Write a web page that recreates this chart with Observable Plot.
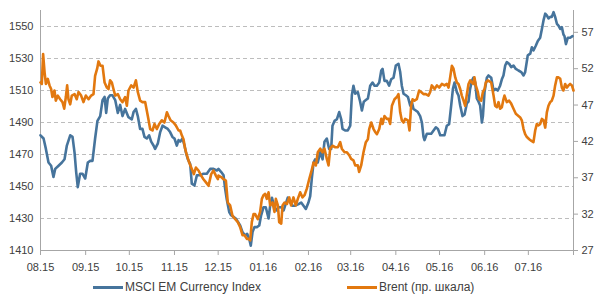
<!DOCTYPE html>
<html>
<head>
<meta charset="utf-8">
<script src="https://cdn.jsdelivr.net/npm/d3@7"></script>
<script src="https://cdn.jsdelivr.net/npm/@observablehq/plot@0.6"></script>
<style>
  html, body { margin: 0; padding: 0; background: #fff; }
  #chart svg { display: block; }
  #legend { position: relative; width: 600px; height: 22px; font-family: "Liberation Sans", Arial, sans-serif; font-size: 12px; color: #404040; }
  .item { position: absolute; top: 0; height: 22px; display: flex; align-items: center; }
  .swatch { display: inline-block; width: 30px; height: 3px; margin-right: 2px; }
</style>
</head>
<body>
<div id="chart"></div>
<div id="legend">
  <div class="item" style="left:93px"><span class="swatch" style="background:#46749c"></span>MSCI EM Currency Index</div>
  <div class="item" style="left:347px"><span class="swatch" style="background:#e2780f"></span>Brent (пр. шкала)</div>
</div>
<script>
// Days since 2015-08-01, value
const msciSeries = [
[0,1482],[2.1,1480],[3.7,1473.5],[5.5,1465],[7.3,1463],[8.9,1456],[10.1,1461],[12.4,1463],[14.7,1465],[16.5,1467],[18.1,1475.6],[20.4,1482],[22.0,1481],[23.4,1471],[24.5,1459],[25.6,1449.6],[27.2,1458],[28.8,1458],[30.7,1455],[32.5,1465],[34.1,1466],[35.7,1466],[37.5,1480],[39.1,1491],[41.0,1494],[42.6,1504],[44.0,1506],[45.1,1496],[46.2,1505],[47.8,1507],[49.4,1507],[51.3,1504],[53.1,1496],[54.7,1501],[56.3,1494],[58.1,1498.5],
[60.4,1493.3],[62.7,1492],[63.9,1496.5],[65.5,1498.5],[66.8,1494],[68.4,1486],[70.0,1486],[71.4,1481],[73.0,1480],[74.6,1482],[76.0,1478],[77.6,1475.6],[78.7,1473.5],[80.6,1477],[82.2,1484],[83.8,1488],[85.6,1487],[87.4,1486],[89.0,1484],[90.6,1481],[92.0,1480],[93.6,1475.6],[94.8,1479],[95.9,1478],[97.5,1480],[98.9,1475.6],[99.8,1471.5],[101.2,1467],[102.8,1464],[103.9,1451.7],[105.7,1450.6],[107.4,1457],[109.6,1457],[111.9,1458],[114.2,1458],[116.5,1461],[118.8,1461],[121.1,1460],
[122.2,1461],[124.1,1459],[125.7,1457],[126.8,1448.5],[127.9,1442],[129.6,1434],[130.9,1432],[132.5,1431],[134.1,1430],[135.5,1428],[137.1,1425.6],[138.7,1421.5],[140.5,1419.4],[141.9,1420.4],[143.3,1417.3],[144.4,1413],[145.6,1421.5],[146.9,1424.6],[148.6,1424.6],[150.2,1425.6],[151.5,1432],[153.1,1437],[154.7,1437],[156.6,1430],[157.7,1438],[158.9,1443],[160.7,1437],[162.3,1435],[163.4,1437],[165.3,1437],[166.9,1435],[168.0,1438],[169.8,1443],[171.4,1440],[173.0,1438],[174.9,1438],[177.2,1439],[179.0,1440],[180.6,1438],[182.2,1436],[184.0,1440],
[185.2,1444],[186.3,1455],[187.5,1465],[188.6,1467],[190.4,1465],[192.1,1471.5],[193.7,1467],[195.0,1478],[196.6,1480],[198.2,1473.5],[199.6,1473.5],[200.5,1488],[201.9,1491],[203.5,1492],[205.1,1496.5],[206.5,1492],[207.4,1486],[209.2,1485],[211.0,1485],[212.7,1488],[213.8,1507],[214.9,1513],[216.1,1508],[217.9,1509],[219.5,1503],[220.7,1497.5],[222.0,1503],[223.4,1504],[224.8,1505],[226.4,1513],[228.0,1515],[229.4,1513],[231.0,1513],[232.6,1515],[234.0,1522.5],[234.9,1523.5],[236.2,1516],[237.8,1516],[239.4,1513],[240.8,1517],[242.4,1518],[244.0,1525.6],
[245.8,1526.7],[247.0,1521.5],[248.1,1513],[249.3,1508],[250.9,1507],[252.3,1506],[253.9,1500.6],[255.0,1503],[256.1,1498.5],[257.7,1497.5],[259.1,1496.5],[260.7,1494],[261.9,1490],[263.0,1481],[263.7,1479],[265.3,1483],[266.9,1483],[268.3,1483],[269.9,1485],[271.5,1487],[272.9,1486],[274.5,1482],[276.1,1482],[277.4,1482],[279.0,1488],[280.6,1489],[282.0,1500.6],[283.2,1511],[284.3,1515],[285.9,1509],[287.0,1507],[288.2,1500.6],[289.8,1494],[291.2,1495],[292.8,1502],[293.9,1503],[295.0,1511],[296.2,1516],[297.3,1518],[298.5,1515],[299.6,1505],[300.8,1503],[301.9,1500.6],[303.1,1490],[303.8,1494],[304.9,1509],[306.5,1518],
[307.6,1519.4],[309.5,1518],[311.1,1510],[312.7,1511],[314.0,1510],[315.6,1513],[316.8,1517],[317.9,1519.4],[319.1,1525.6],[320.2,1527.7],[321.8,1526.7],[323.2,1524.6],[324.8,1525.6],[326.4,1523.5],[328.2,1522.5],[330.1,1521.5],[331.7,1519.4],[332.8,1521.5],[334.6,1532],[336.3,1533],[337.4,1537],[338.5,1535],[340.1,1538],[341.5,1541],[343.1,1543],[344.3,1548.5],[345.4,1553.8],[346.6,1558],[347.7,1557],[348.8,1555],[350.0,1556],[351.1,1556],[352.3,1559],[353.4,1556],[354.6,1551.7],[355.7,1550.6],[356.9,1548.5],[358.0,1549.6],[359.1,1545],[359.8,1544],[360.8,1539],[362.1,1543],[363.7,1543],[365.3,1544]
];
const brentSeries = [
[0,50.1],[0.9,49.9],[1.8,54.0],[2.8,51.5],[3.7,49.9],[5.0,50.6],[6.2,49.7],[7.3,49.2],[8.2,48.1],[9.6,49.0],[10.5,47.6],[11.9,48.3],[13.5,47.8],[15.1,47.4],[16.3,46.5],[17.4,48.1],[18.3,49.7],[19.2,47.8],[20.4,47.1],[21.5,48.3],[23.4,48.5],[24.9,47.8],[26.1,48.8],[27.9,48.3],[29.5,47.4],[31.1,48.3],[33.0,47.8],[34.8,48.3],[36.4,48.5],[37.5,51.0],[38.9,52.0],[39.8,53.0],[41.2,52.4],[42.6,52.4],[44.0,50.1],[45.6,49.4],[46.7,49.2],[47.8,50.4],[49.0,50.1],[50.1,49.2],[51.3,48.3],[53.1,48.5],[54.7,47.8],[56.3,47.4],[58.1,48.1],[59.3,46.9],
[60.4,49.0],[62.3,49.7],[63.9,49.4],[65.5,50.4],[66.8,48.8],[68.4,47.6],[70.0,47.4],[71.9,47.4],[73.7,45.5],[75.3,43.7],[76.9,43.5],[78.3,44.4],[79.9,43.7],[81.5,44.4],[83.3,44.9],[85.1,44.6],[86.8,46.0],[87.9,45.5],[89.3,44.9],[91.3,44.6],[92.9,44.2],[94.8,43.5],[95.9,43.5],[97.1,42.8],[98.2,42.3],[99.3,41.0],[100.5,40.1],[102.1,39.1],[103.9,38.2],[105.3,37.5],[106.7,38.4],[108.5,38.0],[110.3,37.3],[111.9,36.8],[113.5,36.4],[115.4,35.9],[117.2,37.5],[118.8,38.0],[120.4,37.3],[121.8,36.8],
[122.2,37.3],[124.1,37.1],[125.7,36.8],[127.3,36.6],[128.6,33.6],[130.2,33.2],[131.8,31.8],[133.7,31.3],[135.5,30.9],[137.1,30.2],[138.7,29.1],[140.1,29.1],[141.7,28.6],[142.8,28.6],[144.0,28.4],[145.1,30.9],[146.3,32.0],[147.4,32.0],[149.2,31.3],[150.8,32.3],[152.0,34.1],[153.1,34.6],[154.3,34.8],[155.4,34.1],[156.6,35.0],[157.7,33.2],[159.3,33.6],[160.7,32.3],[161.6,34.1],[163.0,33.2],[163.9,30.9],[165.3,30.7],[166.2,33.2],[167.6,33.6],[169.2,33.4],[170.8,34.3],[172.1,33.2],[173.7,34.3],[175.3,33.2],[176.7,34.1],[178.3,35.0],[179.9,34.3],[181.3,34.6],[182.9,35.5],[184.5,36.8],
[185.9,37.8],[187.5,39.1],[189.1,38.7],[190.4,40.5],[192.1,41.0],[193.7,40.5],[195.0,41.0],[196.6,39.6],[197.8,38.7],[198.9,41.0],[200.5,41.4],[202.4,41.2],[204.2,41.2],[205.8,41.9],[206.9,41.0],[208.8,40.5],[210.4,40.5],[212.0,40.1],[213.3,39.6],[214.9,39.4],[216.1,38.7],[217.9,38.7],[218.8,37.8],[220.2,38.7],[221.8,40.5],[223.4,41.9],[224.8,42.3],[225.7,43.7],[227.1,44.6],[228.7,43.7],[229.8,43.3],[231.0,43.0],[232.6,43.7],[234.0,45.1],[234.9,44.4],[236.2,45.5],[237.8,45.1],[239.0,45.1],[240.1,44.4],[241.3,46.9],[243.1,47.8],[244.7,48.1],
[245.8,48.5],[247.0,46.0],[248.1,44.9],[249.3,44.6],[250.4,45.1],[252.3,44.9],[253.4,43.5],[254.5,46.9],[255.5,47.8],[256.8,47.6],[258.4,47.8],[260.0,49.0],[261.4,48.8],[263.0,48.5],[264.6,48.5],[266.4,48.3],[267.6,48.8],[268.7,49.7],[270.6,49.2],[272.2,49.7],[273.8,49.4],[275.6,49.9],[277.4,49.7],[279.0,49.9],[280.2,49.4],[281.3,50.8],[282.5,52.4],[283.6,52.0],[284.8,50.8],[285.9,50.1],[287.0,49.9],[288.2,49.2],[289.3,48.3],[290.5,47.6],[291.6,46.9],[292.8,48.5],[293.9,49.9],[295.1,50.4],[296.2,50.1],[297.3,49.9],[298.0,50.8],[298.9,49.7],[300.3,48.8],[301.2,47.8],[302.6,47.6],[303.8,48.8],[304.9,49.2],[305.8,50.1],[307.2,50.4],
[309.5,50.1],[311.1,48.3],[312.2,46.9],[313.4,46.7],[314.5,47.4],[315.6,46.5],[316.8,46.7],[317.9,47.8],[318.6,48.3],[320.2,47.4],[321.8,47.6],[323.2,47.2],[324.8,46.5],[326.4,45.8],[328.2,45.5],[329.4,45.3],[330.5,44.9],[331.7,43.7],[332.8,43.0],[334.0,42.6],[335.6,42.3],[336.9,42.1],[338.5,41.9],[339.7,43.5],[340.8,44.4],[342.0,44.2],[343.1,44.4],[344.3,45.1],[345.4,44.9],[346.6,43.9],[347.7,46.0],[348.8,46.9],[350.0,47.4],[351.1,47.6],[352.3,48.3],[353.4,49.7],[354.6,50.8],[355.7,50.8],[356.9,50.6],[358.0,49.4],[359.1,49.0],[360.3,49.9],[361.4,49.4],[362.6,49.7],[363.7,49.9],[364.9,49.7],[366.0,49.0]
];
const monthDates = ["2015-08-01","2015-09-01","2015-10-01","2015-11-01","2015-12-01","2016-01-01","2016-02-01","2016-03-01","2016-04-01","2016-05-01","2016-06-01","2016-07-01","2016-08-01"];
const monthLabels = ["08.15","09.15","10.15","11.15","12.15","01.16","02.16","03.16","04.16","05.16","06.16","07.16",""];
const leftTicks = [1410,1430,1450,1470,1490,1510,1530,1550];
const rightTicks = [27,32,37,42,47,52,57];
const leftDomain = [1410, 1560];
const rightDomain = [27, 60];

const blue = "#46749c", orange = "#e2780f", axisGray = "#a6a6a6";
const start = new Date(monthDates[0] + "T00:00:00Z");
const end = new Date(monthDates[monthDates.length - 1] + "T00:00:00Z");
const toDate = d => new Date(start.getTime() + d * 86400000);
const k = (leftDomain[1] - leftDomain[0]) / (rightDomain[1] - rightDomain[0]);
const r2l = v => leftDomain[0] + (v - rightDomain[0]) * k;
const l2r = v => rightDomain[0] + (v - leftDomain[0]) / k;

const msci = msciSeries.map(([d, v]) => ({date: toDate(d), v}));
const brent = brentSeries.map(([d, v]) => ({date: toDate(d), v: r2l(v)}));
const tickDates = monthDates.map(s => new Date(s + "T00:00:00Z"));
const labelOf = d => { const i = tickDates.findIndex(t => +t === +d); return i >= 0 ? monthLabels[i] : ""; };

const chart = Plot.plot({
  width: 600,
  height: 276,
  marginTop: 10,
  marginBottom: 26,
  marginLeft: 40,
  marginRight: 27,
  style: {fontFamily: "'Liberation Sans', Arial, sans-serif", fontSize: "11px", color: "#404040", background: "#fff"},
  x: {type: "utc", domain: [start, end]},
  y: {domain: leftDomain},
  marks: [
    Plot.ruleY(leftTicks.filter(t => t > leftDomain[0]), {stroke: "#bdbdbd", strokeDasharray: "4,3", strokeWidth: 1}),
    Plot.axisY({ticks: leftTicks, tickSize: 0, tickPadding: 7, label: null, tickFormat: d => String(d)}),
    Plot.axisY({anchor: "right", ticks: rightTicks.map(r2l), tickSize: 4, tickPadding: 4, label: null, stroke: axisGray, tickFormat: d => String(Math.round(l2r(d)))}),
    Plot.axisX({ticks: tickDates, tickSize: 5, tickPadding: 8, label: null, stroke: axisGray, tickFormat: labelOf}),
    Plot.ruleX([start], {stroke: axisGray}),
    Plot.ruleX([end], {stroke: axisGray}),
    Plot.ruleY([leftDomain[0]], {stroke: axisGray}),
    Plot.lineY(msci, {x: "date", y: "v", stroke: blue, strokeWidth: 2.6, curve: "linear"}),
    Plot.lineY(brent, {x: "date", y: "v", stroke: orange, strokeWidth: 2.6, curve: "linear"})
  ]
});
document.getElementById("chart").appendChild(chart);
</script>
</body>
</html>
